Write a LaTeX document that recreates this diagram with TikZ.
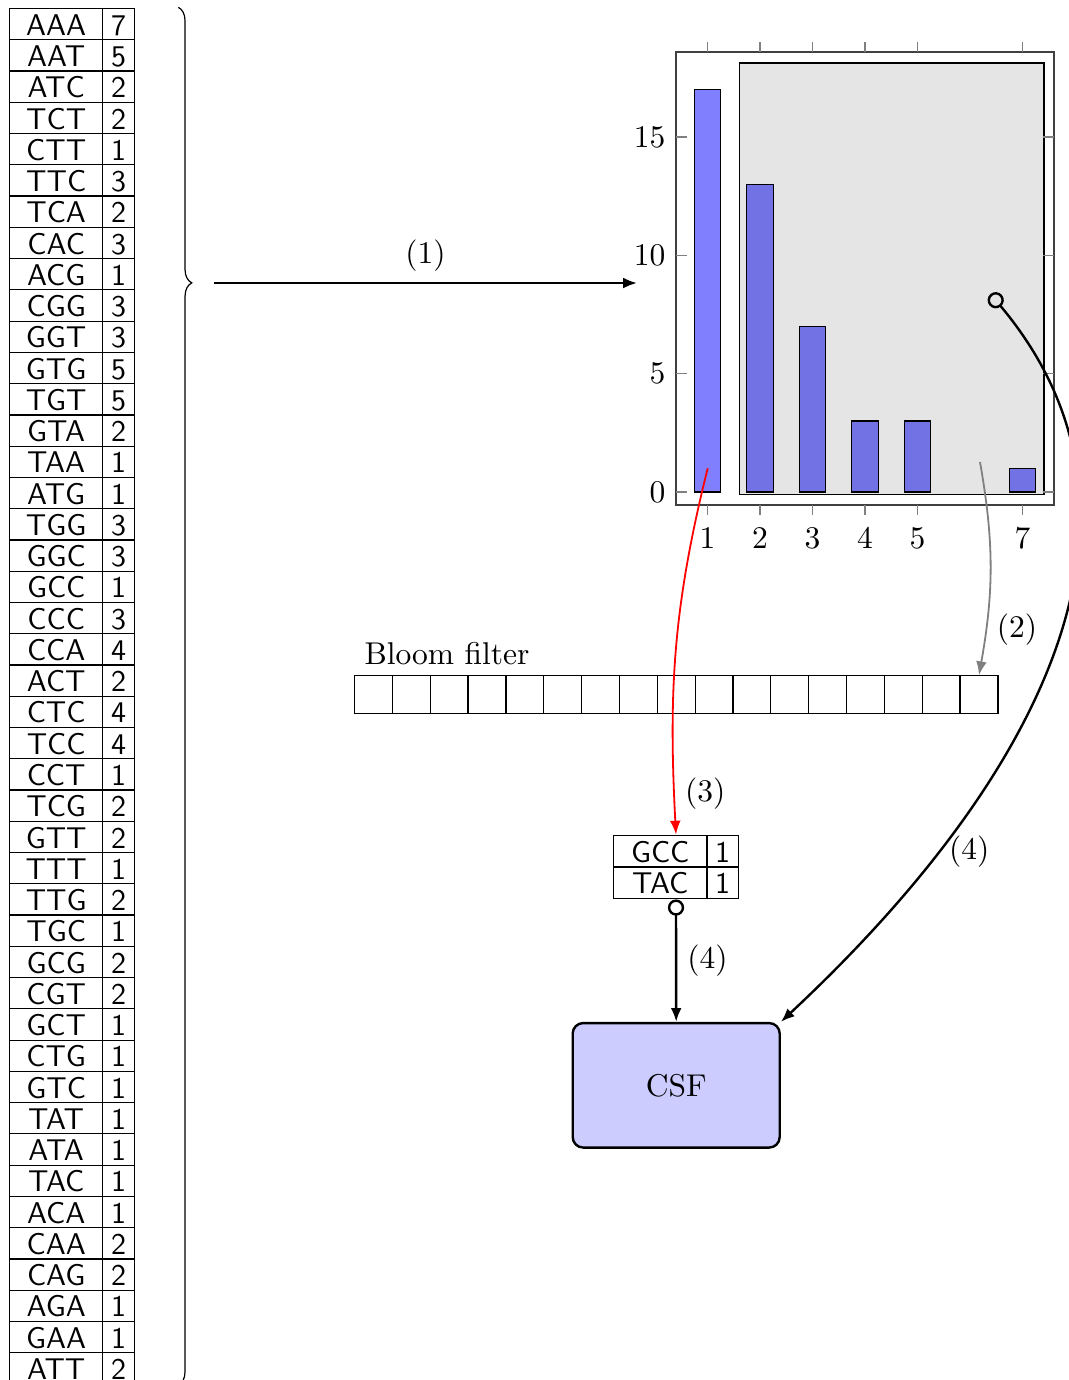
\documentclass[tikz,border=0pt]{standalone}
\usepackage{tikz}
\usetikzlibrary{arrows.meta,matrix,decorations.pathreplacing,positioning}

\tikzset{
  >={Latex[length=4.6pt,width=3.6pt]},
  flow/.style     ={thick, ->},
  kmertable/.style={matrix of nodes, inner sep=0pt,
    row sep=-\pgflinewidth, column sep=-\pgflinewidth,
    nodes={draw, thin, font=\sffamily\fontsize{10pt}{12pt}\selectfont, inner sep=0pt,
           minimum height=10.42pt, text height=7.4pt, text depth=0pt},
    column 1/.style={nodes={minimum width=31.13pt}},
    column 2/.style={nodes={minimum width=10.53pt}}},
  cell/.style     ={draw, thin, minimum size=12.6pt, inner sep=0pt},
  bar/.style      ={draw=black, thin, fill=blue!50},
  axtick/.style   ={gray, thin},
  tail/.style     ={thick, {Circle[open,length=5.4pt]}->},
  csf/.style      ={draw, thick, rounded corners=3.5pt, fill=blue!20,
                    minimum width=69pt, minimum height=41.5pt},
}

\begin{document}
\begin{tikzpicture}[x=33.333pt, y=33.333pt, font=\fontsize{10.5pt}{12.6pt}\selectfont]
  \useasboundingbox (0,0) rectangle (10.69,-13.80);

  % ---------- k-mer counts ----------
  \matrix (kmers) [kmertable, anchor=north west] at (0.083,-0.073) {
    AAA & 7 \\ AAT & 5 \\ ATC & 2 \\ TCT & 2 \\ CTT & 1 \\ TTC & 3 \\
    TCA & 2 \\ CAC & 3 \\ ACG & 1 \\ CGG & 3 \\ GGT & 3 \\ GTG & 5 \\
    TGT & 5 \\ GTA & 2 \\ TAA & 1 \\ ATG & 1 \\ TGG & 3 \\ GGC & 3 \\
    GCC & 1 \\ CCC & 3 \\ CCA & 4 \\ ACT & 2 \\ CTC & 4 \\ TCC & 4 \\
    CCT & 1 \\ TCG & 2 \\ GTT & 2 \\ TTT & 1 \\ TTG & 2 \\ TGC & 1 \\
    GCG & 2 \\ CGT & 2 \\ GCT & 1 \\ CTG & 1 \\ GTC & 1 \\ TAT & 1 \\
    ATA & 1 \\ TAC & 1 \\ ACA & 1 \\ CAA & 2 \\ CAG & 2 \\ AGA & 1 \\
    GAA & 1 \\ ATT & 2 \\
  };
  \draw[decorate, decoration={brace, amplitude=4.5pt, aspect=0.2}]
    ([xshift=14.2pt]kmers.north east) -- ([xshift=14.2pt]kmers.south east);
  \coordinate (allkmers) at (2.14,-2.83);

  % ---------- histogram of the counts ----------
  \begin{scope}
    \foreach \n/\v in {1/17,2/13,3/7,4/3,5/3,7/1}
      \draw[bar] ({7.075+0.525*(\n-1)-0.133},-4.92) rectangle ++(0.266,{0.2367*\v});
    % counts above one
    \draw[fill=black, fill opacity=0.1] (7.393,-0.63) rectangle (10.44,-4.945);
    \draw[black!75] (6.76,-0.52) rectangle (10.54,-5.05);
    \foreach \v in {0,5,10,15} {
      \draw[axtick] (6.76,{-4.92+0.2367*\v}) -- ++(0.11,0);
      \draw[axtick] (10.54,{-4.92+0.2367*\v}) -- ++(-0.11,0);
      \node[left] (ylab\v) at (6.76,{-4.92+0.2367*\v}) {\v};
    }
    \foreach \n in {1,2,3,4,5,7} {
      \draw[axtick] ({7.075+0.525*(\n-1)},-0.52) -- ++(0,0.1);
      \draw[axtick] ({7.075+0.525*(\n-1)},-5.05) -- ++(0,-0.1);
      \node[below] (xlab\n) at ({7.075+0.525*(\n-1)},-5.17) {\n};
    }
  \end{scope}
  \coordinate (chartin) at (6.37,-2.83);
  \coordinate (single) at (7.077,-4.683);
  \coordinate (rare) at (9.80,-4.62);
  \coordinate (peak) at (9.905,-2.94);

  % ---------- Bloom filter ----------
  \foreach \i in {1,...,17}
    \node[cell] (bf\i) at ({3.545+0.3785*(\i-0.5)},-6.947) {};
  \node[anchor=south west] (bflabel) at (bf1.north west) {Bloom filter};

  % ---------- singletons and CSF ----------
  \matrix (hits) [kmertable] at (6.76,-8.67) { GCC & 1 \\ TAC & 1 \\ };
  \node[csf] (csf) at (6.762,-10.853) {CSF};

  % arrows
  \draw[flow] (allkmers) -- node[above] (l1) {(1)} (chartin);
  \draw[gray, semithick, ->] (rare) to[out=-80, in=80]
    node[pos=0.8, right, text=black] (l2) {(2)} (bf17.north);
  \draw[red, semithick, ->] (single) to[out=-104, in=93]
    node[pos=0.9, right, text=black] (l3) {(3)} (hits.north);
  \draw[tail] (hits.south) -- node[right] (l4) {(4)} (csf.north);
  \draw[tail] (peak) to[out=-50, in=43, looseness=1.05]
    node[pos=0.75, right] (l5) {(4)} (csf.north east);
\end{tikzpicture}
\end{document}
